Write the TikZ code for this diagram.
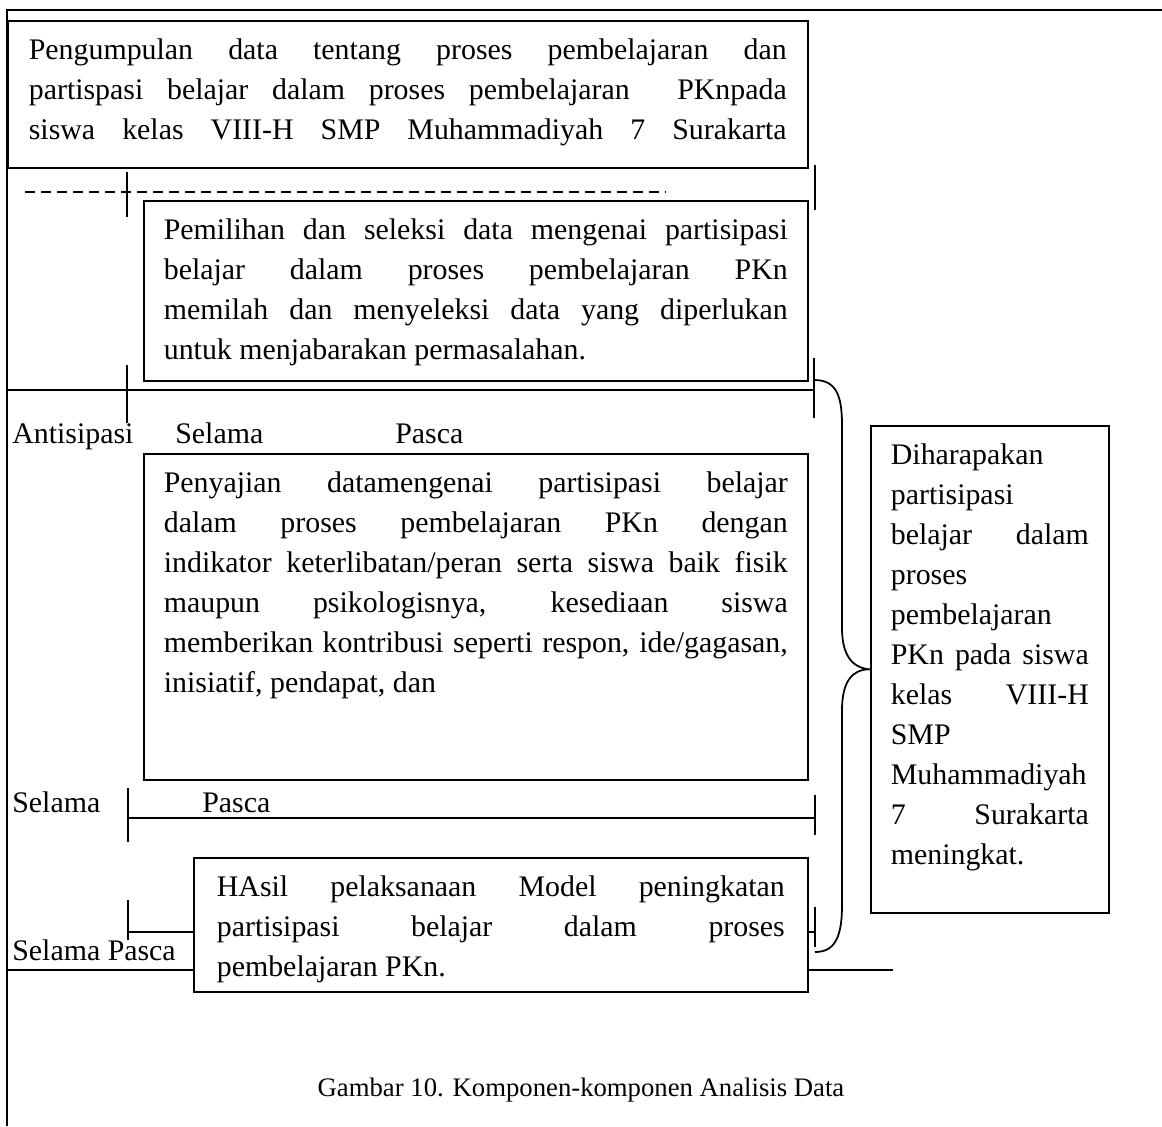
\documentclass[tikz,border=0pt]{standalone}
\usepackage{fontspec}
\setmainfont{Liberation Serif}

\newcommand{\bodyfont}{\fontsize{17pt}{22.76pt}\selectfont}
\newcommand{\capfont}{\fontsize{15.2pt}{18pt}\selectfont}
% one justified line, and a fixed size text block
\newcommand{\jl}[1]{\makebox[\linewidth][s]{#1}\\}
\newcommand{\boxpar}[3]{\parbox[c][#2][t]{#1}{\bodyfont\strut#3}}

\tikzset{
  ln/.style={line width=1pt},
  databox/.style={draw, line width=1pt, anchor=north west, inner xsep=0.4cm, inner ysep=0.22cm, font=\bodyfont},
  phase/.style={anchor=base west, inner sep=0pt, font=\bodyfont},
}

\begin{document}
\begin{tikzpicture}[x=0.02cm, y=-0.02cm]
    \useasboundingbox (0,0) rectangle (1162,1126);
    % outer frame
    \draw[ln] (7,1126) -- (7,10) -- (1162,10);

    % boxes
    \node[databox, inner xsep=0.42cm] (kumpul) at (7,20) {\boxpar{15.16cm}{2.5cm}{%
        \jl{Pengumpulan data tentang proses pembelajaran dan}%
        \jl{partispasi belajar dalam proses pembelajaran\ \ PKnpada}%
        \jl{siswa kelas VIII-H SMP Muhammadiyah 7 Surakarta}}};
    \node[databox] (pilih) at (143,200) {\boxpar{12.48cm}{3.16cm}{%
        \jl{Pemilihan dan seleksi data mengenai partisipasi}%
        \jl{belajar dalam proses pembelajaran PKn}%
        \jl{memilah dan menyeleksi data yang diperlukan}%
        untuk menjabarakan permasalahan.}};
    \node[databox] (saji) at (143,453) {\boxpar{12.48cm}{6.08cm}{%
        \jl{Penyajian datamengenai partisipasi belajar}%
        \jl{dalam proses pembelajaran PKn dengan}%
        \jl{indikator keterlibatan/peran serta siswa baik fisik}%
        \jl{maupun psikologisnya, kesediaan siswa}%
        \jl{memberikan kontribusi seperti respon, ide/gagasan,}%
        inisiatif, pendapat, dan}};
    \node[databox, inner xsep=0.46cm] (hasil) at (193,857) {\boxpar{11.36cm}{2.24cm}{%
        \jl{HAsil pelaksanaan Model peningkatan}%
        \jl{partisipasi belajar dalam proses}%
        pembelajaran PKn.}};
    \node[databox, inner xsep=0.4cm] (harap) at (870,425) {\boxpar{3.96cm}{9.3cm}{%
        Diharapakan\\
        partisipasi\\
        \jl{belajar dalam}%
        proses\\
        pembelajaran\\
        \jl{PKn pada siswa}%
        \jl{kelas VIII-H}%
        SMP\\
        Muhammadiyah\\
        \jl{7 Surakarta}%
        meningkat.}};

    % phase labels
    \node[phase] (anti) at (12,443) {Antisipasi};
    \node[phase] (selamaA) at (175,443) {Selama};
    \node[phase] (pascaA) at (395,443) {Pasca};
    \node[phase] (selamaB) at (12,812) {Selama};
    \node[phase] (pascaB) at (202,812) {Pasca};
    \node[phase] (selpas) at (12,960) {Selama Pasca};

    % dashed line and ticks
    \draw[ln, dash pattern=on 5.7pt off 3.4pt] (25,192) -- (665,192);
    \draw[ln] (127,172) -- (127,217);
    \draw[ln] (815,165) -- (815,210);

    \coordinate (bracetop) at (814,380);
    \coordinate (bracebot) at (815,952);
    \draw[ln] (7,390) -- (814,390);
    \draw[ln] (127,365) -- (127,423);
    \draw[ln] (814,358) -- (814,418);

    \draw[ln] (128,788) -- (128,842);
    \draw[ln] (128,818) -- (815,818);
    \draw[ln] (815,795) -- (815,835);

    \coordinate (stub) at (128,932);
    \draw[ln] (128,900) -- (128,940);
    \draw[ln] (stub) -- (stub -| hasil.west);
    \draw[ln] (7,970) -- (hasil.west |- 0,970);
    \draw[ln] (hasil.east |- 0,970) -- (893,970);
    \draw[ln] (815,907) -- (815,947);
    \draw[ln] (hasil.east |- stub) -- (815,932);

    % brace
    \draw[ln] (bracetop) .. controls (836,380) and (842,395) .. (842,425)
        -- (842,628) .. controls (842,655) and (852,668) .. (harap.west)
        .. controls (852,669) and (842,682) .. (842,710)
        -- (842,905) .. controls (842,935) and (836,952) .. (bracebot);

    \node[anchor=base, font=\capfont] (caption) at (581,1096) {Gambar 10. Komponen-komponen Analisis Data};
\end{tikzpicture}
\end{document}
